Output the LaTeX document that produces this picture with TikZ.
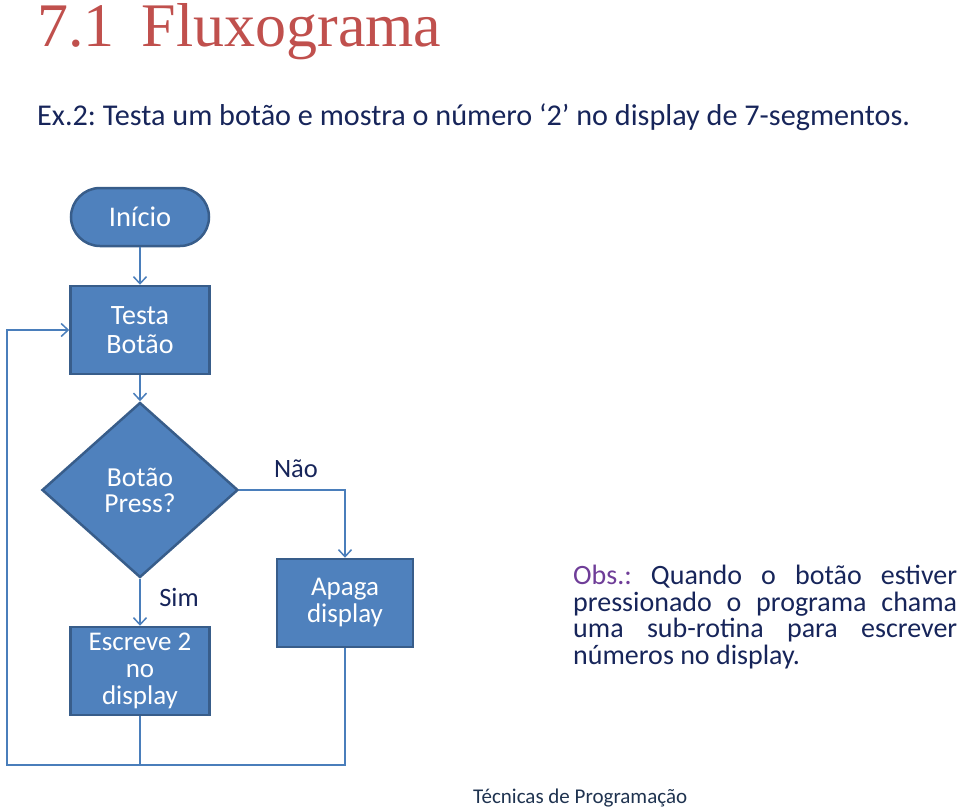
\documentclass[tikz,border=0pt]{standalone}
\usepackage{fontspec}
\setmainfont{Carlito}
\newfontfamily\titlefont{Liberation Serif}
\usetikzlibrary{shapes.geometric,arrows.meta,positioning}
\definecolor{boxblue}{HTML}{4F81BD}
\definecolor{boxedge}{HTML}{385D8A}
\definecolor{linkblue}{HTML}{4A7EBB}
\definecolor{titlered}{HTML}{C0504D}
\definecolor{navy}{HTML}{17255A}
\definecolor{obspurple}{HTML}{6F3D98}
\definecolor{footgray}{HTML}{1F3350}
\frenchspacing

\begin{document}
\begin{tikzpicture}[x=1pt,y=1pt]

 \tikzstyle{block}=[rectangle,draw=boxedge,fill=boxblue,line width=2.5pt,text=white,
font=\fontsize{28}{29.5}\selectfont,align=center,inner sep=0pt,minimum width=139pt,minimum height=88pt]
 \tikzstyle{terminal}=[block,rounded corners=29pt,minimum width=138pt,minimum height=58pt,
font=\fontsize{28.5}{30}\selectfont]
 \tikzstyle{decision}=[diamond,draw=boxedge,fill=boxblue,line width=2.5pt,text=white,
font=\fontsize{27.5}{26}\selectfont,align=center,inner sep=0pt,minimum width=196pt,minimum height=175pt]
 \tikzstyle{line}=[draw=linkblue,line width=1.5pt,>={Straight Barb[length=7pt,width=13pt]}]
 \tikzstyle{label}=[text=navy,font=\fontsize{26.5}{28}\selectfont,inner sep=0pt]

\useasboundingbox (0,0) rectangle (960,-808);

% Title and subtitle
\node (title) [anchor=base west,inner sep=0pt,text=titlered] at (37,-47)
  {\titlefont\fontsize{62}{62}\selectfont 7.1\hspace{27pt}Fluxograma};
\node (subtitle) [anchor=base west,inner sep=0pt,text=navy] at (37,-125)
  {\fontsize{30.2}{32}\selectfont Ex.2: Testa um botão e mostra o número ‘2’ no display de 7-segmentos.};

% Flowchart blocks
\node[terminal] (inicio) at (140,-217) {Início};
\node[block] (testa) [node distance=113pt,below of=inicio] {Testa\\Botão};
\node[decision] (botao) [node distance=160pt,below of=testa] {Botão\\Press?};
\node[block] (escreve) [node distance=181pt,below of=botao,font=\fontsize{27}{27}\selectfont] {Escreve 2\\no\\display};
\node[block] (apaga) at (345,-603) [minimum width=136pt,font=\fontsize{27}{27}\selectfont] {Apaga\\display};

\node[label] (nao) at (296,-469) {Não};
\node[label] (sim) at (179,-597) {Sim};

% Connectors
\coordinate (juncao) at (140,-765);
\coordinate (canto) at (7,-765);

\draw[line,->] (inicio) -- (testa);
\draw[line,->] (testa) -- (botao);
\draw[line,->] (botao) -- (escreve);
\draw[line,->] (botao.east) -| (apaga.north);
\draw[line] (escreve.south) -- (juncao);
\draw[line,->] (apaga.south) |- (canto) |- (testa.west);

% Note
\node (obs) [anchor=north west,inner sep=0pt,text width=384pt,align=justify,text=navy,
font=\fontsize{28}{26.5}\selectfont] at (573,-565)
  {\hyphenpenalty=10000\textcolor{obspurple}{Obs.:} Quando o botão estiver\linebreak
   pressionado o programa chama\linebreak uma sub-rotina para escrever\linebreak
   números no display.};

% Footer
\node (rodape) [anchor=base west,inner sep=0pt,text=footgray,font=\fontsize{21}{22}\selectfont]
  at (473,-803) {Técnicas de Programação};

\end{tikzpicture}
\end{document}
